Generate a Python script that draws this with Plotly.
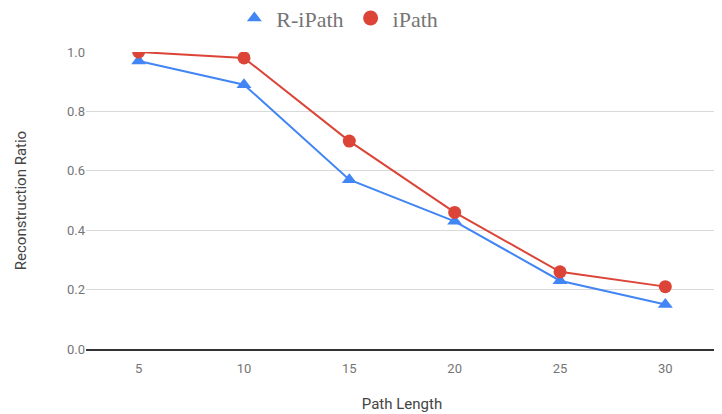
import plotly.graph_objects as go

path_length = [5, 10, 15, 20, 25, 30]
r_ipath = [0.97, 0.89, 0.57, 0.43, 0.23, 0.15]
ipath = [1.00, 0.98, 0.70, 0.46, 0.26, 0.21]
y_ticks = [0.0, 0.2, 0.4, 0.6, 0.8, 1.0]

BLUE = "#4285F4"
RED = "#DB4437"

fig = go.Figure()
fig.add_trace(go.Scatter(x=path_length, y=r_ipath, name="R-iPath", mode="lines+markers",
                         line=dict(color=BLUE, width=2), showlegend=False,
                         marker=dict(symbol="triangle-up", size=13, color=BLUE)))
fig.add_trace(go.Scatter(x=path_length, y=ipath, name="iPath", mode="lines+markers",
                         line=dict(color=RED, width=2), showlegend=False,
                         marker=dict(symbol="circle", size=13, color=RED)))
# legend entries (markers only, as in the reference)
fig.add_trace(go.Scatter(x=[None], y=[None], name="R-iPath", mode="markers",
                         marker=dict(symbol="triangle-up", size=13, color=BLUE)))
fig.add_trace(go.Scatter(x=[None], y=[None], name="iPath", mode="markers",
                         marker=dict(symbol="circle", size=15, color=RED)))

# the page body adds an 8px margin, so the figure is 8px smaller than the window
fig.update_layout(
    width=714, height=406,
    margin=dict(l=78, r=4, t=44, b=65, autoexpand=False),
    paper_bgcolor="white", plot_bgcolor="white",
    font=dict(family="Roboto", color="#757575", size=13),
    showlegend=True,
    legend=dict(orientation="h", xref="container", yref="container",
                x=0.462, xanchor="center", y=0.975, yanchor="middle",
                font=dict(family="Liberation Serif", size=22, color="#757575"),
                itemwidth=34, tracegroupgap=0),
    xaxis=dict(range=[2.5, 32.5], tickvals=path_length, ticktext=[str(v) for v in path_length],
               showgrid=False, zeroline=False,
               showline=True, linecolor="#333", linewidth=1.5,
               ticks="outside", ticklen=7, tickcolor="rgba(0,0,0,0)", automargin=False,
               title=dict(text="Path Length", font=dict(size=15, color="#444"), standoff=23)),
    yaxis=dict(range=[0, 1.0], tickvals=y_ticks, ticktext=["%.1f" % v for v in y_ticks],
               showgrid=True, gridcolor="#d9d9d9", gridwidth=1,
               zeroline=False, showline=False, ticks="", ticklen=0, automargin=False,
               title=dict(text="Reconstruction Ratio", font=dict(size=15, color="#444"), standoff=36)),
)
fig.update_yaxes(autorange=False)
fig.write_html("out.html")
